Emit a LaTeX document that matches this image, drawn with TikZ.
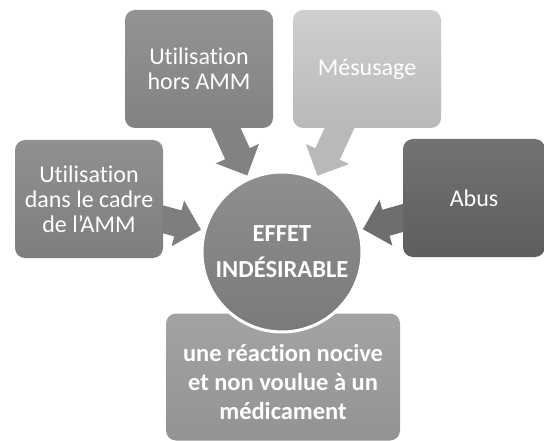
\documentclass[tikz,border=0pt]{standalone}
\usepackage{fontspec}
\setmainfont{Carlito}[Ligatures=NoCommon]
\usetikzlibrary{arrows.meta, backgrounds}
\definecolor{HorsTop}{HTML}{939393}
\definecolor{HorsBot}{HTML}{828282}
\definecolor{MesTop}{HTML}{CFCFCF}
\definecolor{MesBot}{HTML}{B9B9B9}
\definecolor{CadreTop}{HTML}{909090}
\definecolor{CadreBot}{HTML}{7E7E7E}
\definecolor{AbusTop}{HTML}{727272}
\definecolor{AbusBot}{HTML}{5E5E5E}
\definecolor{EffetTop}{HTML}{8F8F8F}
\definecolor{EffetBot}{HTML}{7A7A7A}
\definecolor{DefTop}{HTML}{A3A3A3}
\definecolor{DefBot}{HTML}{939393}

\begin{document}
\begin{tikzpicture}[x=1pt, y=-1pt,
    box/.style={rounded corners=10pt, minimum width=148pt, minimum height=118pt,
      inner sep=0pt, align=center, text=white, font=\fontsize{24}{25}\selectfont},
    bigarrow/.style={line width=27pt, -{Triangle[width=46pt, length=24pt]}, shorten >=84pt}]
    \useasboundingbox (0,0) rectangle (544,441);
    \clip (0,0) rectangle (544,441);
    % Causes
    \node [box, top color=HorsTop, bottom color=HorsBot] (hors) at (199,69) {Utilisation\\hors AMM};
    \node [box, top color=MesTop, bottom color=MesBot] (mes) at (367,69) {Mésusage};
    \node [box, top color=CadreTop, bottom color=CadreBot] (cadre) at (89,199) {Utilisation\\dans le cadre\\de l’AMM};
    \node [box, minimum width=142pt, top color=AbusTop, bottom color=AbusBot] (abus) at (474,198) {Abus};
    % Definition
    \node [box, minimum width=234pt, minimum height=127pt, top color=DefTop, bottom color=DefBot,
      font=\fontsize{24.5}{29}\selectfont\bfseries] (def) at (283,377) {\\[-2pt]une réaction nocive\\et non voulue à un\\médicament};
    % Central effect
    \node [circle, minimum size=160pt, inner sep=0pt, draw=white, line width=3pt,
      top color=EffetTop, bottom color=EffetBot, align=center, text=white,
      font=\fontsize{24.5}{36}\selectfont\bfseries] (effet) at (282,252) {EFFET\\INDÉSIRABLE};
    % Arrows towards the effect
    \begin{pgfonlayer}{background}
      \fill [white] (0,0) rectangle (544,441);
      \draw [bigarrow, HorsBot] (hors.center) -- (effet.center);
      \draw [bigarrow, MesBot] (mes.center) -- (effet.center);
      \draw [bigarrow, CadreBot] (cadre.center) -- (effet.center);
      \draw [bigarrow, AbusBot!90!white] (abus.center) -- (effet.center);
    \end{pgfonlayer}
\end{tikzpicture}
\end{document}
